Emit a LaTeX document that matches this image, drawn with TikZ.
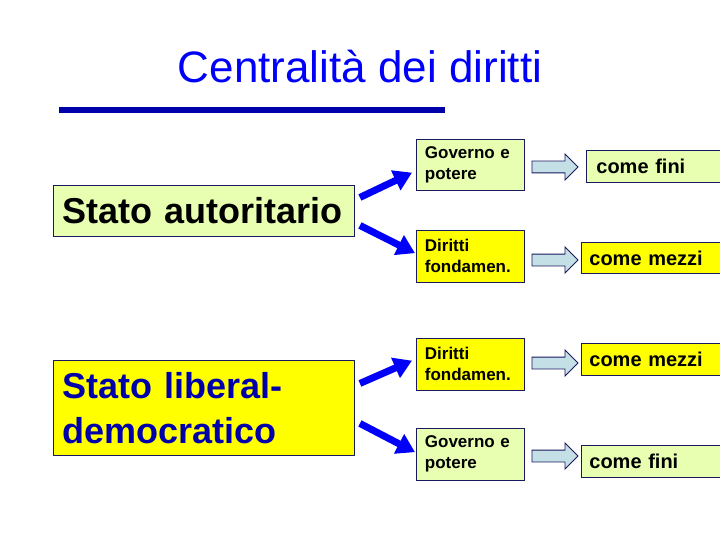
\documentclass[tikz,border=0pt]{standalone}
\usepackage{fontspec}
\setmainfont{Liberation Sans}
\usetikzlibrary{arrows.meta,shapes.arrows,positioning}
\definecolor{verdino}{RGB}{232,255,178}
\definecolor{giallo}{RGB}{255,255,0}
\definecolor{bordo}{RGB}{25,25,95}
\definecolor{azzurro}{RGB}{196,224,230}
\definecolor{blu}{RGB}{0,0,250}
\definecolor{blunotte}{RGB}{0,0,170}
\tikzset{
	stato/.style={draw=bordo, line width=0.9pt, anchor=north west, minimum width=301pt, text width=283pt, inner xsep=9pt, inner ysep=0pt, align=left, font=\bfseries\fontsize{36}{45}\selectfont},
	piccolo/.style={draw=bordo, line width=0.8pt, anchor=north west, minimum width=108pt, minimum height=51.5pt, text width=91pt, inner xsep=8.5pt, align=left, font=\bfseries\fontsize{17}{21}\selectfont},
	esito/.style={draw=bordo, line width=0.8pt, anchor=north west, minimum height=32pt, text width=133pt, inner xsep=8pt, align=left, font=\bfseries\fontsize{20}{24}\selectfont},
	freccia/.style={-{Triangle[length=18pt,width=21pt]}, line width=7pt, blu},
	vuota/.style={single arrow, draw=bordo, line width=0.8pt, fill=azzurro, minimum height=46pt, minimum width=25pt, inner xsep=0pt, inner ysep=5.5pt, single arrow head extend=7pt}
}
\begin{document}
\begin{tikzpicture}[x=1pt, y=-1pt]
	\clip (0,0) rectangle (720,540);
	\fill[white] (0,0) rectangle (720,540);
	
	% Titolo
	\node[anchor=base, text=blu, font=\fontsize{44}{50}\selectfont] (titolo) at (360,83) {Centralità dei diritti};
	\draw[line width=5.5pt, blunotte] (59,110) -- (445,110);
	
	% Stati
	\node[stato, fill=verdino, minimum height=51pt] (aut) at (53,185) {Stato autoritario};
	\node[stato, fill=giallo, minimum height=95pt, text=blunotte] (lib) at (53,360) {Stato liberal-\\democratico};
	
	% Caselle piccole
	\node[piccolo, fill=verdino] (gov1) at (416,139) {Governo e\\potere};
	\node[piccolo, fill=giallo] (dir1) at (416,230) {Diritti\\fondamen.};
	\node[piccolo, fill=giallo] (dir2) at (416,338) {Diritti\\fondamen.};
	\node[piccolo, fill=verdino] (gov2) at (416,428) {Governo e\\potere};
	
	% Esiti
	\node[esito, fill=verdino, inner xsep=10pt] (fini1) at (586,150) {come fini};
	\node[esito, fill=giallo, minimum height=31pt] (mezzi1) at (581,242) {come mezzi};
	\node[esito, fill=giallo] (mezzi2) at (581,343) {come mezzi};
	\node[esito, fill=verdino] (fini2) at (581,445) {come fini};
	
	% Frecce vuote
	\foreach \n/\y in {v1/167, v2/260, v3/363, v4/456} {
		\node[vuota] (\n) at (552,\y) {};
	}
	
	% Frecce blu
	\draw[freccia] ([shift={(5,-13.5)}]aut.east) -- ([shift={(-4,7.5)}]gov1.west);
	\draw[freccia] ([shift={(5,14.5)}]aut.east) -- ([shift={(-1,-3)}]dir1.west);
	\draw[freccia] ([shift={(5,-24.5)}]lib.east) -- ([shift={(-4,-3.5)}]dir2.west);
	\draw[freccia] ([shift={(5,15.5)}]lib.east) -- ([shift={(-1,-2)}]gov2.west);
\end{tikzpicture}
\end{document}
